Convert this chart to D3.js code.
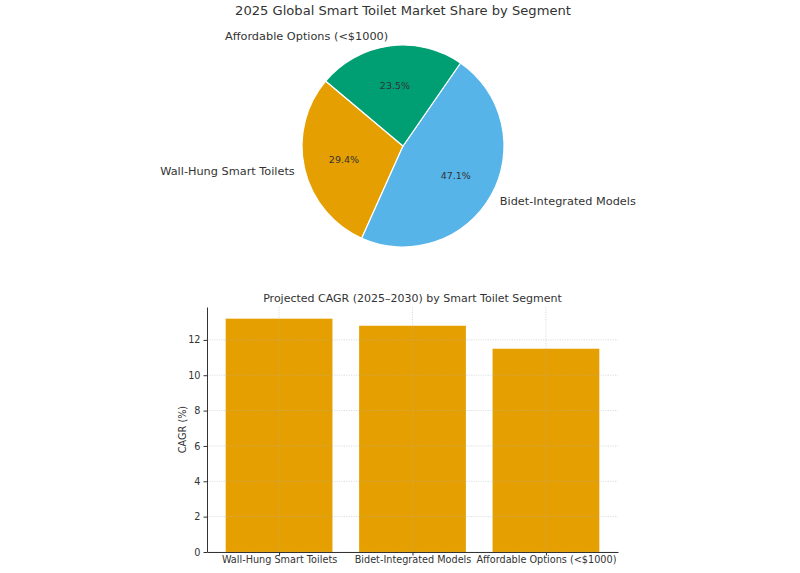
<!DOCTYPE html>
<html>
<head>
<meta charset="utf-8">
<script src="https://cdnjs.cloudflare.com/ajax/libs/d3/7.8.5/d3.min.js"></script>
<style>
  body { margin: 0; background: #fff; }
  svg { font-family: "DejaVu Sans", sans-serif; }
</style>
</head>
<body>
<svg id="chart" width="800" height="573"></svg>
<script>
// pie data
var shareLabels = ['Wall-Hung Smart Toilets', 'Bidet-Integrated Models', 'Affordable Options (<$1000)'];
var shareValues = [25, 40, 20];
var shareColors = ['#E69F00', '#56B4E9', '#009E73'];

// bar data
var cagrLabels = ['Wall-Hung Smart Toilets', 'Bidet-Integrated Models', 'Affordable Options (<$1000)'];
var cagrValues = [13.2, 12.8, 11.5];
var yTicks = [0, 2, 4, 6, 8, 10, 12];

var svg = d3.select('#chart');
var textColor = '#333';

// ---- pie ----
var cx = 403, cy = 146, r = 101;
svg.append('text')
    .attr('x', 403).attr('y', 15)
    .attr('text-anchor', 'middle')
    .style('font-size', '13.1px')
    .style('fill', textColor)
    .text('2025 Global Smart Toilet Market Share by Segment');

// matplotlib style: start at 140deg, go counterclockwise
var total = d3.sum(shareValues);
var deg = Math.PI / 180;
var pieG = svg.append('g').attr('transform', 'translate(' + cx + ',' + cy + ')');
var start = 140;
var slices = shareValues.map(function (v, i) {
    var sweep = v / total * 360;
    var s = { i: i, a0: start, a1: start + sweep, v: v };
    start += sweep;
    return s;
});
// convert math angle (ccw from +x) to d3 angle (cw from top)
function toD3(a) { return (90 - a) * deg; }
var arc = d3.arc().innerRadius(0).outerRadius(r);
pieG.selectAll('path')
    .data(slices)
    .enter().append('path')
    .attr('d', function (d) {
        return arc({ startAngle: toD3(d.a1), endAngle: toD3(d.a0) });
    })
    .attr('fill', function (d) { return shareColors[d.i]; })
    .attr('stroke', '#fff')
    .attr('stroke-width', 1.2);

slices.forEach(function (d) {
    var mid = (d.a0 + d.a1) / 2 * deg;
    var lx = 1.1 * r * Math.cos(mid), ly = -1.1 * r * Math.sin(mid);
    pieG.append('text')
        .attr('x', lx).attr('y', ly)
        .attr('dy', '0.35em')
        .attr('text-anchor', lx > 0 ? 'start' : 'end')
        .style('font-size', '11.3px')
        .style('fill', textColor)
        .text(shareLabels[d.i]);
    var px = 0.6 * r * Math.cos(mid), py = -0.6 * r * Math.sin(mid);
    pieG.append('text')
        .attr('x', px).attr('y', py)
        .attr('dy', '0.35em')
        .attr('text-anchor', 'middle')
        .style('font-size', '9.5px')
        .style('fill', textColor)
        .text((d.v / total * 100).toFixed(1) + '%');
});

// ---- bars ----
var plotLeft = 207, plotRight = 618, plotTop = 307, plotBottom = 552;
var x = d3.scaleLinear().domain([-0.54, 2.54]).range([plotLeft, plotRight]);
var y = d3.scaleLinear().domain([0, d3.max(cagrValues) * 1.05]).range([plotBottom, plotTop]);
var barW = x(0.8) - x(0);

svg.append('text')
    .attr('x', (plotLeft + plotRight) / 2).attr('y', 302)
    .attr('text-anchor', 'middle')
    .style('font-size', '11px')
    .style('fill', textColor)
    .text('Projected CAGR (2025\u20132030) by Smart Toilet Segment');

var barG = svg.append('g');
barG.selectAll('rect')
    .data(cagrValues)
    .enter().append('rect')
    .attr('x', function (d, i) { return x(i) - barW / 2; })
    .attr('y', function (d) { return y(d); })
    .attr('width', barW)
    .attr('height', function (d) { return plotBottom - y(d); })
    .attr('fill', '#E69F00');

// grid drawn over bars
var grid = svg.append('g')
    .style('stroke', '#b0b0b0')
    .style('stroke-opacity', 0.55)
    .style('stroke-dasharray', '1.2,1.2')
    .style('stroke-width', 0.8);
grid.selectAll('.gy').data(yTicks).enter().append('line')
    .attr('x1', plotLeft).attr('x2', plotRight)
    .attr('y1', function (d) { return y(d); })
    .attr('y2', function (d) { return y(d); });
grid.selectAll('.gx').data(cagrLabels).enter().append('line')
    .attr('x1', function (d, i) { return x(i); })
    .attr('x2', function (d, i) { return x(i); })
    .attr('y1', plotTop).attr('y2', plotBottom);

var yAxis = svg.append('g')
    .attr('transform', 'translate(' + plotLeft + ',0)')
    .call(d3.axisLeft(y).tickValues(yTicks).tickSize(3.5).tickPadding(3).tickSizeOuter(0));
var xAxis = svg.append('g')
    .attr('transform', 'translate(0,' + plotBottom + ')')
    .call(d3.axisBottom(x).tickValues([0, 1, 2]).tickSize(3.5).tickPadding(1).tickSizeOuter(0)
        .tickFormat(function (d) { return cagrLabels[d]; }));
[yAxis, xAxis].forEach(function (ax) {
    ax.selectAll('path').style('stroke', '#333').style('stroke-width', 1);
    ax.selectAll('line').style('stroke', '#333');
    ax.selectAll('text').style('font-size', '9.7px').style('fill', textColor)
        .style('font-family', '"DejaVu Sans", sans-serif');
});

svg.append('text')
    .attr('transform', 'translate(186,' + ((plotTop + plotBottom) / 2) + ') rotate(-90)')
    .attr('text-anchor', 'middle')
    .style('font-size', '9.7px')
    .style('fill', textColor)
    .text('CAGR (%)');
</script>
</body>
</html>
